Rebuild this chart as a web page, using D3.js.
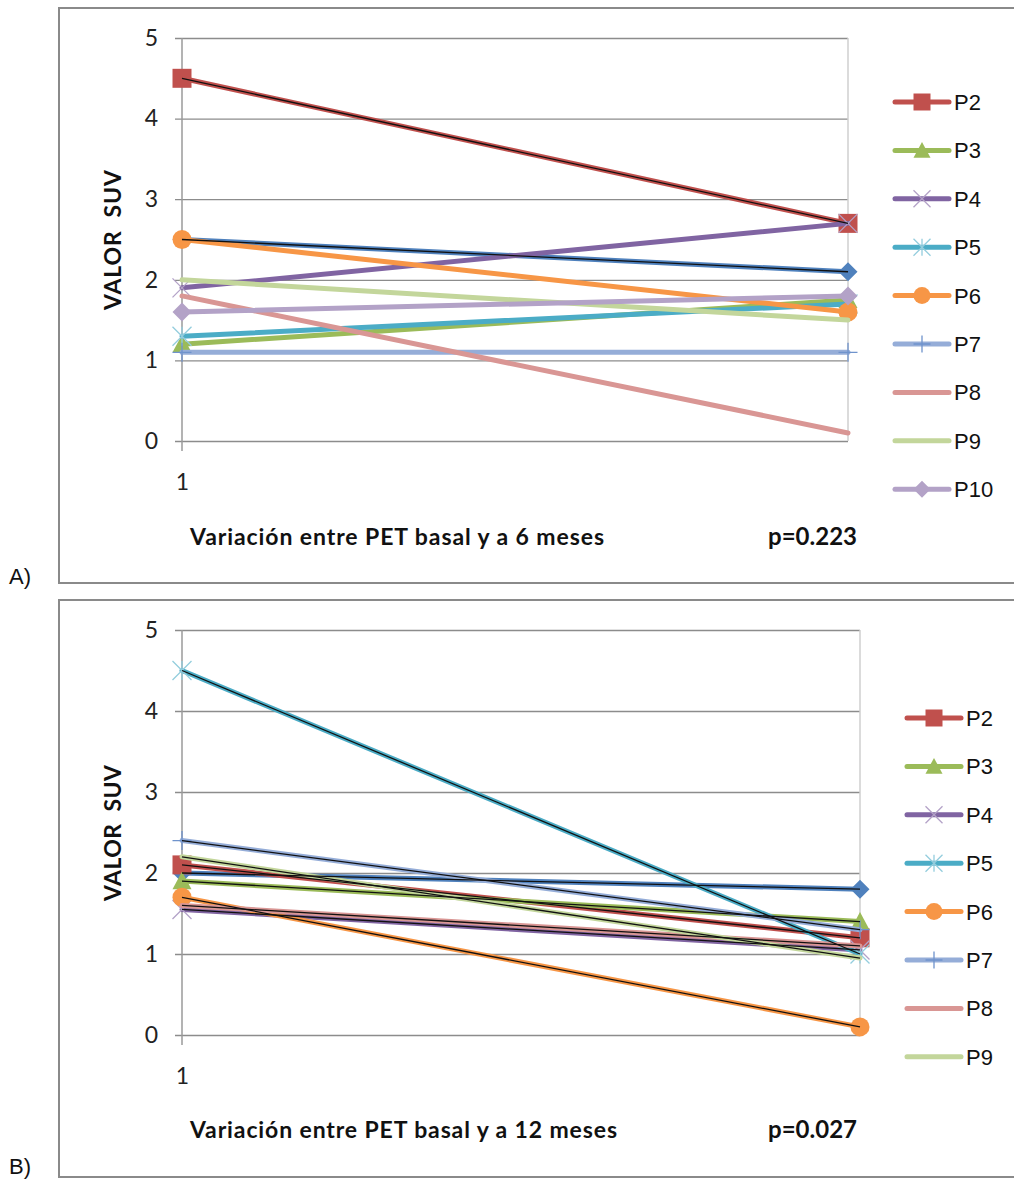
<!DOCTYPE html>
<html>

<head>
    <title>Valor SUV</title>
    <meta charset="UTF-8">
    <style type="text/css">
        body {
            margin: 0;
            background: #fff;
        }

        .tick line {
            stroke: #8c8c8c;
            stroke-width: 1.3px;
        }

        .tick text {
            font-family: Lato, "Open Sans", sans-serif;
            font-size: 23px;
            fill: #222;
        }

        .lbl {
            font-family: Lato, "Open Sans", sans-serif;
            font-weight: bold;
            fill: #111;
            white-space: pre;
        }

        .leg {
            font-family: "Liberation Sans", Arial, sans-serif;
            font-size: 22px;
            fill: #111;
        }
    </style>
    <script src="https://d3js.org/d3.v7.min.js"></script>
</head>

<body>
    <script type="text/javascript">
        // series names (P1 is drawn but not listed in the legend)
        var seriesNames = ["P1", "P2", "P3", "P4", "P5", "P6", "P7", "P8", "P9", "P10"];
        var categories = ["1", "2"];
        var catLabels = ["1", ""];
        var yTicks = [0, 1, 2, 3, 4, 5];

        // panel A: basal -> 6 meses
        var basalA = [2.5, 4.5, 1.2, 1.9, 1.3, 2.5, 1.1, 1.8, 2.0, 1.6];
        var mes6A = [2.1, 2.7, 1.75, 2.7, 1.7, 1.6, 1.1, 0.1, 1.5, 1.8];
        var legendA = ["P2", "P3", "P4", "P5", "P6", "P7", "P8", "P9", "P10"];

        // panel B: basal -> 12 meses
        var basalB = [2.0, 2.1, 1.9, 1.55, 4.5, 1.7, 2.4, 1.6, 2.2];
        var mes12B = [1.8, 1.2, 1.4, 1.05, 1.0, 0.1, 1.3, 1.1, 0.95];
        var legendB = ["P2", "P3", "P4", "P5", "P6", "P7", "P8", "P9"];

        // look of each series
        var colors = ["#4F81BD", "#C0504D", "#9BBB59", "#8064A2", "#4BACC6", "#F79646", "#95ADD8", "#D99694", "#C3D69B", "#B3A2C7"];
        var markColors = ["#4F81BD", "#C0504D", "#9BBB59", "#B3A2C7", "#93CDDD", "#F79646", "#6F93CC", "none", "none", "#B3A2C7"];
        var shapes = ["diamond", "square", "triangle", "x", "star", "circle", "plus", "none", "none", "diamond"];

        var W = 1014,
            H = 1180;

        var svg = d3.select("body").append("svg")
            .attr("width", W)
            .attr("height", H);

        // returns the path of an Excel style marker of size s
        function markerPath(shape, s) {
            var h = s / 2;
            if (shape == "square") return "M" + (-h) + "," + (-h) + "h" + s + "v" + s + "h" + (-s) + "Z";
            if (shape == "diamond") return "M0," + (-h) + "L" + h + ",0L0," + h + "L" + (-h) + ",0Z";
            if (shape == "triangle") return "M0," + (-h) + "L" + h + "," + (h * 0.85) + "L" + (-h) + "," + (h * 0.85) + "Z";
            if (shape == "circle") return "M" + (-h) + ",0a" + h + "," + h + " 0 1,0 " + s + ",0a" + h + "," + h + " 0 1,0 " + (-s) + ",0";
            if (shape == "x") return "M" + (-h) + "," + (-h) + "L" + h + "," + h + "M" + (-h) + "," + h + "L" + h + "," + (-h);
            if (shape == "star") return "M" + (-h) + "," + (-h) + "L" + h + "," + h + "M" + (-h) + "," + h + "L" + h + "," + (-h) + "M0," + (-h) + "L0," + h;
            if (shape == "plus") return "M0," + (-h) + "L0," + h + "M" + (-h) + ",0L" + h + ",0";
            return "";
        }

        function isStroked(shape) {
            return shape == "x" || shape == "star" || shape == "plus";
        }

        function drawMarker(g, i, x, y, s) {
            var shape = shapes[i];
            if (shape == "none") return;
            var stroked = isStroked(shape);
            g.append("path")
                .attr("transform", "translate(" + x + "," + y + ")")
                .attr("d", markerPath(shape, s))
                .attr("fill", stroked ? "none" : colors[i])
                .attr("stroke", stroked ? markColors[i] : "none")
                .attr("stroke-width", stroked ? 1.3 : 0);
        }

        function drawPanel(p) {
            // outer frame
            svg.append("rect")
                .attr("x", 59)
                .attr("y", p.top)
                .attr("width", W + 10)
                .attr("height", p.bottom - p.top)
                .attr("fill", "none")
                .attr("stroke", "#8a8a8a")
                .attr("stroke-width", 2);

            svg.append("text")
                .attr("class", "leg")
                .attr("x", 9)
                .attr("y", p.tagY)
                .text(p.tag);

            var x = d3.scalePoint()
                .domain(categories)
                .range([182, p.xEnd]);

            var y = d3.scaleLinear()
                .domain([0, 5])
                .range([p.y0, p.y5]);

            // gridlines + y tick labels
            var yAxis = d3.axisLeft(y)
                .tickValues(yTicks)
                .tickFormat(d3.format("d"))
                .tickSize(-(p.xEnd - 175))
                .tickPadding(17);

            var gy = svg.append("g")
                .attr("transform", "translate(175,0)")
                .call(yAxis);
            gy.select(".domain").remove();

            // plot area right border
            svg.append("line")
                .attr("x1", p.xEnd)
                .attr("x2", p.xEnd)
                .attr("y1", p.y5)
                .attr("y2", p.y0)
                .attr("stroke", "#cfcfcf")
                .attr("stroke-width", 1.5);

            // vertical axis with category tick below
            svg.append("line")
                .attr("x1", x("1"))
                .attr("x2", x("1"))
                .attr("y1", p.y5)
                .attr("y2", p.y0 + 10)
                .attr("stroke", "#9a9a9a")
                .attr("stroke-width", 1.5);

            // category labels
            var xAxis = d3.axisBottom(x)
                .tickSize(0)
                .tickPadding(33)
                .tickFormat(function(d, i) {
                    return catLabels[i];
                });
            var gx = svg.append("g")
                .attr("transform", "translate(0," + p.y0 + ")")
                .call(xAxis);
            gx.select(".domain").remove();

            // y axis title
            svg.append("text")
                .attr("class", "lbl")
                .attr("transform", "translate(121," + p.titleY + ") rotate(-90)")
                .attr("text-anchor", "middle")
                .style("font-size", "23px")
                .attr("textLength", p.titleLen)
                .attr("lengthAdjust", "spacing")
                .text("VALOR  SUV");

            // bottom texts
            svg.append("text")
                .attr("class", "lbl")
                .attr("x", 190)
                .attr("y", p.noteY)
                .style("font-size", "23px")
                .attr("textLength", p.noteLen)
                .attr("lengthAdjust", "spacing")
                .text(p.note);

            svg.append("text")
                .attr("class", "lbl")
                .attr("x", 857)
                .attr("y", p.noteY)
                .attr("text-anchor", "end")
                .style("font-size", "24px")
                .text(p.pval);

            var line = d3.line()
                .x(function(d) {
                    return x(d.cat);
                })
                .y(function(d) {
                    return y(d.v);
                });

            var series = p.start.map(function(v, i) {
                return {
                    i: i,
                    pts: [{ cat: categories[0], v: v }, { cat: categories[1], v: p.end[i] }]
                };
            });

            var plot = svg.append("g");

            // each series: coloured line then its markers
            series.forEach(function(s) {
                plot.append("path")
                    .datum(s.pts)
                    .attr("d", line)
                    .attr("fill", "none")
                    .attr("stroke", colors[s.i])
                    .attr("stroke-width", 5)
                    .attr("stroke-linecap", "round");
                s.pts.forEach(function(d) {
                    drawMarker(plot, s.i, x(d.cat), y(d.v), 19);
                });
            });

            // thin black lines on top
            series.forEach(function(s) {
                if (p.cores.indexOf(seriesNames[s.i]) < 0) return;
                plot.append("path")
                    .datum(s.pts)
                    .attr("d", line)
                    .attr("fill", "none")
                    .attr("stroke", "#111")
                    .attr("stroke-width", 1.3);
            });

            // legend
            var leg = svg.append("g");
            p.legend.forEach(function(name, k) {
                var i = seriesNames.indexOf(name);
                var ly = p.legTop + k * p.legStep;
                leg.append("line")
                    .attr("x1", p.legX)
                    .attr("x2", p.legX + 54)
                    .attr("y1", ly)
                    .attr("y2", ly)
                    .attr("stroke", colors[i])
                    .attr("stroke-width", 5)
                    .attr("stroke-linecap", "round");
                drawMarker(leg, i, p.legX + 27, ly, 17);
                leg.append("text")
                    .attr("class", "leg")
                    .attr("x", p.legX + 59)
                    .attr("y", ly + 8)
                    .text(name);
            });
        }

        drawPanel({
            tag: "A)",
            tagY: 584,
            top: 8,
            bottom: 583,
            y0: 441,
            y5: 38,
            xEnd: 848,
            titleY: 240,
            titleLen: 140,
            noteY: 545,
            note: "Variación entre PET basal y a 6 meses",
            noteLen: 414,
            pval: "p=0.223",
            start: basalA,
            end: mes6A,
            cores: ["P1", "P2"],
            legend: legendA,
            legX: 895,
            legTop: 102,
            legStep: 48.4
        });

        drawPanel({
            tag: "B)",
            tagY: 1174,
            top: 600,
            bottom: 1177,
            y0: 1035,
            y5: 630,
            xEnd: 860,
            titleY: 833,
            titleLen: 136,
            noteY: 1138,
            note: "Variación entre PET basal y a 12 meses",
            noteLen: 427,
            pval: "p=0.027",
            start: basalB,
            end: mes12B,
            cores: seriesNames,
            legend: legendB,
            legX: 907,
            legTop: 718,
            legStep: 48.4
        });
    </script>

</body>

</html>
